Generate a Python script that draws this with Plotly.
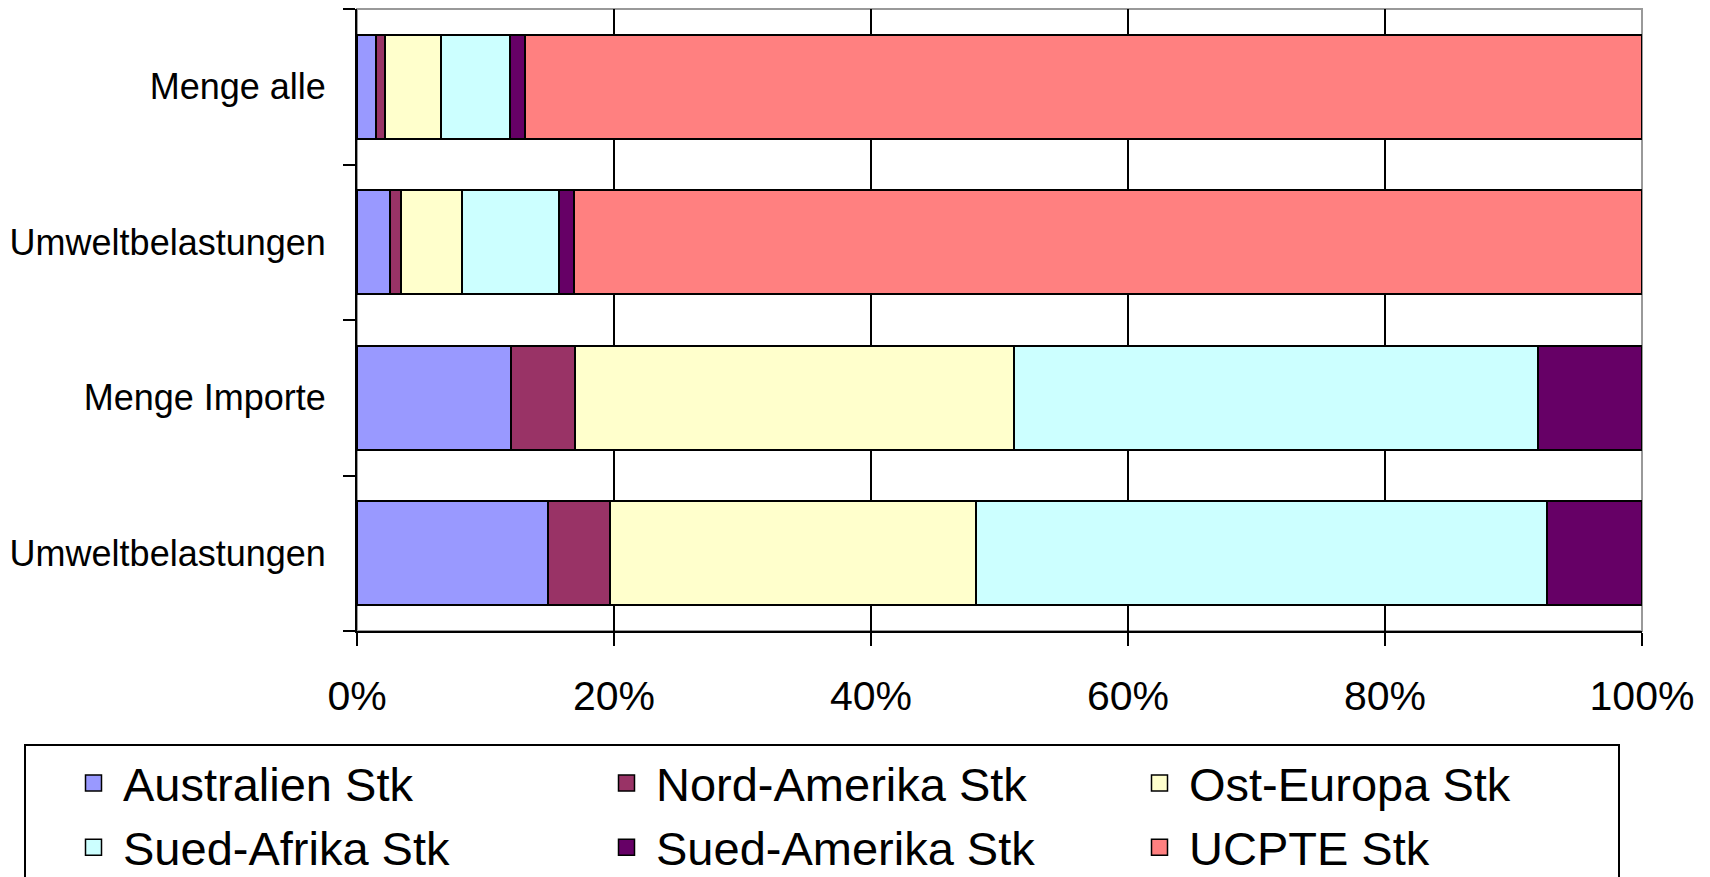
import plotly.graph_objects as go

categories = ["Menge alle", "Umweltbelastungen", "Menge Importe", "Umweltbelastungen"]
series_names = ["Australien Stk", "Nord-Amerika Stk", "Ost-Europa Stk",
                "Sued-Afrika Stk", "Sued-Amerika Stk", "UCPTE Stk"]
australien = [1.5, 2.6, 12.0, 14.9]
nord_amerika = [0.65, 0.8, 5.0, 4.8]
ost_europa = [4.35, 4.8, 34.1, 28.5]
sued_afrika = [5.4, 7.5, 40.8, 44.4]
sued_amerika = [1.15, 1.2, 8.1, 7.4]
ucpte = [86.95, 83.1, 0.0, 0.0]
x_ticks = [0, 20, 40, 60, 80, 100]
x_tick_labels = ["0%", "20%", "40%", "60%", "80%", "100%"]

series_values = [australien, nord_amerika, ost_europa, sued_afrika, sued_amerika, ucpte]
colors = ["#9999FF", "#993366", "#FFFFCC", "#CCFFFF", "#660066", "#FF8080"]

positions = list(range(len(categories)))
boundaries = [p - 0.5 for p in positions] + [positions[-1] + 0.5]

FONT = "Arial, Liberation Sans, sans-serif"
W, H = 1702, 869
L, R, T, B = 349, 68, 1, 246
PW, PH = W - L - R, H - T - B

fig = go.Figure()
for name, vals, col in zip(series_names, series_values, colors):
    fig.add_trace(go.Bar(
        y=positions, x=vals, name=name, orientation="h",
        marker=dict(color=col, line=dict(color="black", width=2)),
        showlegend=False,
    ))
# legend entries (larger square swatches)
for i, (name, col) in enumerate(zip(series_names, colors)):
    fig.add_trace(go.Scatter(
        x=[None], y=[None], mode="markers", name=name,
        marker=dict(symbol="square", size=16, color=col,
                    line=dict(color="black", width=1.5)),
        legendwidth=(431 if i % 3 != 2 else 424),
    ))

fig.update_layout(
    barmode="stack",
    bargap=0.334,
    width=W, height=H,
    margin=dict(l=L, r=R, t=T, b=B, autoexpand=False),
    paper_bgcolor="white", plot_bgcolor="white",
    font=dict(family=FONT, color="black"),
    showlegend=True,
    legend=dict(
        orientation="h",
        x=(16 - L) / PW, xanchor="left", y=(T + PH - 736) / PH, yanchor="top",
        bordercolor="black", borderwidth=2, bgcolor="white",
        font=dict(size=47, family=FONT, color="black"),
        traceorder="normal", indentation=38, itemwidth=49,
    ),
    xaxis=dict(
        range=[0, 100], tickvals=x_ticks, ticktext=x_tick_labels,
        ticks="outside", ticklen=13, tickwidth=2, tickcolor="black",
        showline=True, linecolor="black", linewidth=2,
        showgrid=True, gridcolor="black", gridwidth=1.5, zeroline=False,
        tickfont=dict(size=41, family=FONT, color="black"),
        ticklabelstandoff=15,
    ),
    yaxis=dict(
        range=[positions[-1] + 0.5, -0.5],
        tickvals=positions, ticktext=categories, ticks="",
        showline=True, linecolor="black", linewidth=2,
        showgrid=False, zeroline=False,
        tickfont=dict(size=36, family=FONT, color="black"),
        ticklabelstandoff=22,
        minor=dict(tickvals=boundaries, ticks="outside", ticklen=12,
                   tickwidth=2, tickcolor="black", showgrid=False),
    ),
    shapes=[dict(type="rect", xref="paper", yref="paper", x0=0, x1=1, y0=0, y1=1,
                 line=dict(color="#999999", width=2), layer="below")],
)

fig.write_html("out.html")
